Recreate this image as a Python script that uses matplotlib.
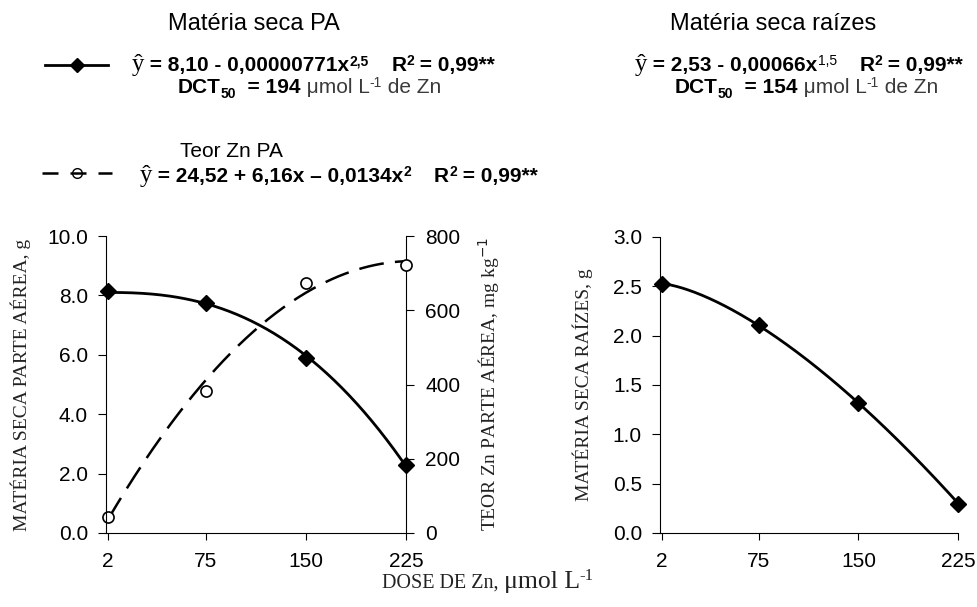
import numpy as np
import matplotlib
matplotlib.use("Agg")
import matplotlib.pyplot as plt
from matplotlib.lines import Line2D
from matplotlib.ticker import FormatStrFormatter

# data
doses = [2, 75, 150, 225]
dose_labels = ["2", "75", "150", "225"]
ms_pa = [8.15, 7.75, 5.90, 2.30]        # materia seca parte aerea, g
teor_zn = [43, 382, 673, 722]           # teor Zn parte aerea, mg/kg
ms_raiz = [2.52, 2.11, 1.32, 0.29]      # materia seca raizes, g

# fitted equations printed on the chart
pa_a, pa_b, pa_p = 8.10, 0.00000771, 2.5
zn_a, zn_b, zn_c = 24.52, 6.16, 0.0134
rz_a, rz_b, rz_p = 2.53, 0.00066, 1.5

W, H = 977, 607
SANS = "Liberation Sans"
SERIF = "Liberation Serif"
plt.rcParams["font.family"] = SANS

fig = plt.figure(figsize=(W / 100, H / 100), dpi=100)
ax1 = fig.add_axes([106 / W, 74 / H, 300 / W, 297 / H])
ax2 = ax1.twinx()
ax3 = fig.add_axes([660 / W, 74 / H, 298 / W, 296 / H])

xs = np.linspace(doses[0], doses[-1], 200)
fit_pa = pa_a - pa_b * xs ** pa_p
fit_zn = zn_a + zn_b * xs - zn_c * xs ** 2
fit_rz = rz_a - rz_b * xs ** rz_p

ax1.plot(xs, fit_pa, color="black", lw=2.0, zorder=3)
ax1.plot(doses, ms_pa, ls="none", marker="D", ms=8, color="black",
         zorder=4, clip_on=False)
ax2.plot(xs, fit_zn, color="black", lw=1.8, dashes=(10, 4.5), zorder=3)
ax2.plot(doses, teor_zn, ls="none", marker="o", ms=8, mfc="white",
         mec="black", mew=1.2, zorder=4, clip_on=False)
ax3.plot(xs, fit_rz, color="black", lw=2.0, zorder=3)
ax3.plot(doses, ms_raiz, ls="none", marker="D", ms=8, color="black",
         zorder=4, clip_on=False)

TICK = 15
for ax in (ax1, ax3):
    ax.set_xlim(0.5, 225)
    ax.set_xticks(doses)
    ax.set_xticklabels(dose_labels)
    ax.spines["top"].set_visible(False)
    ax.spines["right"].set_visible(False)
    ax.tick_params(axis="x", direction="out", length=5, width=0.8,
                   labelsize=TICK, pad=9)
    ax.tick_params(axis="y", direction="out", length=6, width=0.8,
                   labelsize=TICK, pad=7)
    ax.yaxis.set_major_formatter(FormatStrFormatter("%.1f"))
ax1.patch.set_visible(False)
ax2.set_zorder(ax1.get_zorder() - 1)
ax1.set_zorder(ax2.get_zorder() + 1)

ax1.set_ylim(0, 10)
ax1.set_yticks(np.arange(0, 10.1, 2))
ax2.set_ylim(0, 800)
ax2.set_yticks(np.arange(0, 801, 200))
for s in ("top", "left", "bottom"):
    ax2.spines[s].set_visible(False)
ax2.tick_params(axis="y", direction="out", length=6, width=0.8,
                labelsize=TICK, pad=8)
ax3.set_ylim(0, 3)
ax3.set_yticks(np.arange(0, 3.01, 0.5))

lab = dict(family=SERIF, fontsize=14, color="#222222")
ax1.set_ylabel("MATÉRIA SECA PARTE AÉREA, g", **lab)
ax1.yaxis.set_label_coords(-0.25, 0.5)
ax2.set_ylabel("TEOR Zn PARTE AÉREA, mg kg$^{-1}$", **lab)
ax2.yaxis.set_label_coords(1.235, 0.5)
ax3.set_ylabel("MATÉRIA SECA RAÍZES, g", **lab)
ax3.yaxis.set_label_coords(-0.225, 0.5)

fig.canvas.draw()
renderer = fig.canvas.get_renderer()


def chain(parts, x0, y0):
    # parts: (text, size, weight, raise_px, color, family)
    x = x0
    for s, size, weight, dy, color, fam in parts:
        t = fig.text(x / W, 1 - (y0 - dy) / H, s, ha="left", va="baseline",
                     fontsize=size, fontweight=weight, color=color, family=fam)
        x = t.get_window_extent(renderer=renderer).x1


K = "black"
G = "#3a3a3a"
BIG, SUP, HAT = 15, 10, 18

fig.text(254 / W, 1 - 30 / H, "Matéria seca PA", ha="center",
         va="baseline", fontsize=17)
chain([("ŷ", HAT, "normal", 0, K, SERIF),
       (" = 8,10 - 0,00000771x", BIG, "bold", 0, K, SANS),
       ("2,5", SUP, "bold", 6, K, SANS),
       ("    R", BIG, "bold", 0, K, SANS),
       ("2", SUP, "bold", 6, K, SANS),
       (" = 0,99**", BIG, "bold", 0, K, SANS)], 132, 71)
chain([("DCT", BIG, "bold", 0, K, SANS),
       ("50", SUP, "bold", -5, K, SANS),
       ("  = 194", BIG, "bold", 0, K, SANS),
       (" μmol L", BIG, "normal", 0, G, SANS),
       ("-1", SUP, "normal", 6, G, SANS),
       (" de Zn", BIG, "normal", 0, G, SANS)], 178, 93)

fig.text(180 / W, 1 - 157 / H, "Teor Zn PA", ha="left", va="baseline",
         fontsize=BIG)
chain([("ŷ", HAT, "normal", 0, K, SERIF),
       (" = 24,52 + 6,16x – 0,0134x", BIG, "bold", 0, K, SANS),
       ("2", SUP, "bold", 6, K, SANS),
       ("    R", BIG, "bold", 0, K, SANS),
       ("2", SUP, "bold", 6, K, SANS),
       (" = 0,99**", BIG, "bold", 0, K, SANS)], 140, 182)

fig.text(773 / W, 1 - 30 / H, "Matéria seca raízes", ha="center",
         va="baseline", fontsize=17)
chain([("ŷ", HAT, "normal", 0, K, SERIF),
       (" = 2,53 - 0,00066x", BIG, "bold", 0, K, SANS),
       ("1,5", SUP, "normal", 6, K, SANS),
       ("    R", BIG, "bold", 0, K, SANS),
       ("2", SUP, "bold", 6, K, SANS),
       (" = 0,99**", BIG, "bold", 0, K, SANS)], 635, 71)
chain([("DCT", BIG, "bold", 0, K, SANS),
       ("50", SUP, "bold", -5, K, SANS),
       ("  = 154", BIG, "bold", 0, K, SANS),
       (" μmol L", BIG, "normal", 0, G, SANS),
       ("-1", SUP, "normal", 6, G, SANS),
       (" de Zn", BIG, "normal", 0, G, SANS)], 675, 93)

chain([("DOSE DE Zn, ", 14.5, "normal", 0, "#222222", SERIF),
       ("μmol L", 18.5, "normal", 0, "#222222", SERIF),
       ("-1", 12, "normal", 8, "#222222", SERIF)], 382, 588)

# legend samples
h_pa = Line2D([], [], color="black", lw=2.0, marker="D", ms=7)
h_zn = Line2D([], [], color="black", lw=1.8, dashes=(6.4, 4.8), marker="o",
              ms=7, mfc="none", mec="black")
for h, x, y, hl in ((h_pa, 45, 67, 3.5), (h_zn, 42, 175, 3.9)):
    fig.legend(handles=[h], labels=[""], loc="center left",
               bbox_to_anchor=(x / W, 1 - y / H), frameon=False,
               handlelength=hl, handletextpad=0, borderpad=0,
               borderaxespad=0, fontsize=13)

fig.savefig("out.png", dpi=100)
